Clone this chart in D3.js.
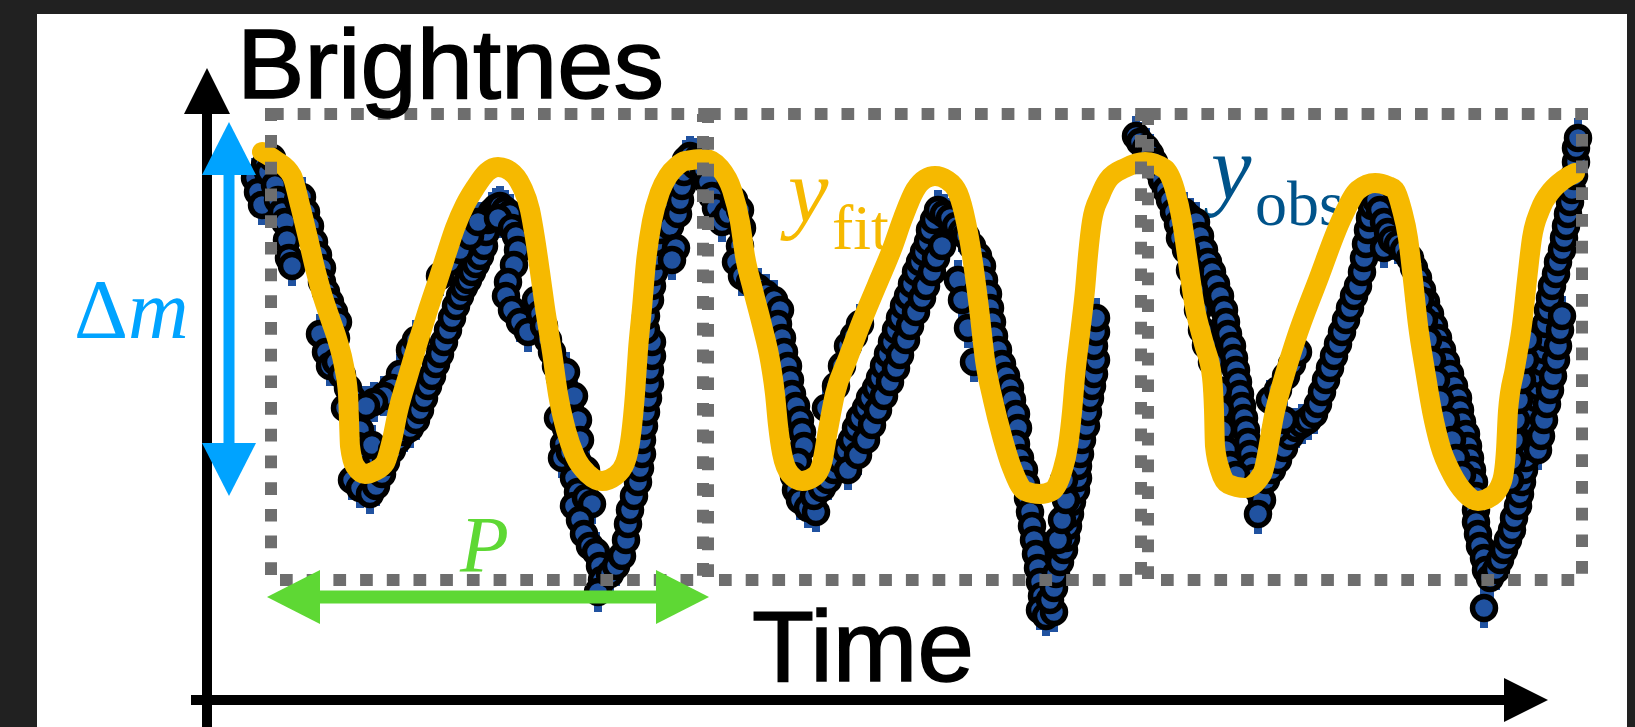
<!DOCTYPE html>
<html>
<head>
<meta charset="utf-8">
<script src="https://cdn.jsdelivr.net/npm/d3@7"></script>
<style>
  body { margin: 0; background: #212121; }
  svg { display: block; }
</style>
</head>
<body>
<svg id="chart" width="1635" height="727"></svg>
<script>
// time in minutes, brightness in mmag (brighter = up)
const period = 437;
const panels = [[0, 432], [437, 870], [877, 1311]];

const obsTime = [
  -16,-13,-9,-6,-3,1,4,7,11,14,16,18,21,27,31,35,39,43,47,51,51,55,59,63,67,65,49,55,59,65,71,77,81,74,85,89,87,91,95,97,81,89,99,105,111,107,101,
  115,121,127,133,139,145,149,153,157,161,165,169,173,177,181,185,189,193,197,201,205,209,213,215,217,221,225,129,121,113,103,95,139,145,169,179,189,199,207,
  229,234,239,227,241,
  245,247,243,237,235,241,249,257,265,269,273,277,281,285,289,295,299,287,295,293,291,299,307,315,303,307,303,315,321,309,313,319,325,329,331,327,
  295,303,307,309,
  339,345,351,355,357,359,363,367,369,371,371,373,375,377,379,379,381,381,375,375,379,381,383,385,385,389,393,399,405,401,407,409,411,413,415,419,425,
  427,433,437,441,445,451,457,463,469,471,469,465,471,479,487,495,503,509,507,511,513,517,519,521,525,529,531,533,527,523,525,529,537,545,543,551,
  557,563,569,575,581,585,589,595,599,605,609,613,617,621,625,629,633,637,641,645,649,653,657,659,663,555,565,571,577,583,589,
  577,587,595,601,607,613,619,625,629,635,639,645,651,655,661,665,671,
  667,673,679,685,691,687,691,697,703,
  695,701,707,711,713,717,719,721,723,727,731,735,739,741,745,747,745,749,753,755,757,759,761,763,765,767,769,771,769,775,783,
  779,783,785,789,793,795,797,799,801,805,807,807,809,811,815,817,819,821,823,825,823,825,825,787,791,795,793,
  865,869,875,879,883,887,891,895,899,903,907,909,913,919,925,929,933,937,941,945,949,953,955,957,961,963,965,967,969,971,973,975,977,979,981,983,987,991,987,
  915,919,923,927,931,935,941,947,949,951,955,959,965,
  995,1001,1007,1013,1019,1025,1031,1037,1043,1047,1051,1055,1059,1063,1067,1071,1075,1079,1083,1087,1091,1093,1095,1097,1099,1101,999,1007,1015,1021,1027,1005,1013,
  1105,1109,1113,1117,1113,1121,
  1127,1133,1139,1143,1147,1151,1155,1159,1163,1167,1171,1175,1179,1183,1187,1189,1191,1195,1197,1199,1201,1203,1205,1205,1205,1207,1209,1213,1215,1213,
  1149,1153,1157,1161,1165,1169,1175,1181,1185,1191,
  1219,1225,1229,1233,1237,1241,1243,1247,1249,1251,1253,1255,1257,1259,1261,1263,1265,1267,1269,1271,1273,1275,1275,1277,1279,1281,1285,1287,1291,1293,1295,1297,1299,1301,1303,1305,1305,1307,
  1267,1270,1273,1276,1279,1282,1285,1287,1289,1291,1239,1241,1243,1245,1248,1251,1254,1257
];
const obsBright = [
  402,388,375,415,408,422,395,380,368,358,340,322,314,380,383,368,354,338,325,312,298,288,278,268,258,242,246,228,214,218,205,192,182,172,162,150,134,122,110,100,100,92,86,94,106,122,135,
  118,130,140,148,152,160,170,182,194,204,216,226,238,250,262,274,284,293,300,308,316,324,334,348,360,368,372,206,192,184,178,174,230,240,304,318,330,344,358,
  374,370,366,362,352,
  344,330,315,298,284,270,258,248,280,266,254,240,228,214,202,190,176,162,152,136,122,128,118,110,102,88,74,82,76,60,46,34,28,14,0,-12,
  208,184,160,140,
  6,14,24,40,56,70,84,98,112,126,140,154,168,182,196,210,224,238,250,264,280,294,308,324,338,350,358,354,332,320,366,380,394,408,420,424,414,
  422,410,398,384,372,358,366,380,370,352,334,318,304,298,292,286,280,270,256,242,228,214,200,186,174,160,148,134,118,104,90,80,72,68,84,92,
  100,110,120,130,140,152,162,172,182,192,202,214,226,238,250,262,274,284,296,308,318,328,338,350,360,172,194,214,234,244,256,
  110,125,140,155,170,184,198,212,225,240,254,268,282,294,308,322,334,
  370,366,362,354,348,300,280,252,218,
  344,334,324,314,300,286,272,258,244,230,216,204,192,180,166,152,136,122,110,96,82,68,54,40,26,12,-2,-16,-30,-36,-32,
  -20,-8,6,18,30,42,54,66,78,90,102,114,126,140,154,168,182,194,206,220,234,248,262,40,60,80,100,
  444,438,432,426,418,410,400,390,380,368,356,342,368,362,358,344,330,318,308,296,284,270,258,246,234,222,210,198,186,174,162,150,138,126,114,102,90,80,66,
  330,310,290,270,250,235,218,190,170,150,130,115,105,
  100,110,120,132,144,152,156,160,166,176,188,200,212,224,236,248,260,272,284,294,308,322,336,350,362,374,180,190,204,216,228,150,160,
  380,370,358,348,332,340,
  336,330,322,312,302,290,278,266,254,242,230,218,206,194,182,170,158,146,134,122,110,98,84,70,58,46,34,22,10,-28,
  280,260,240,220,200,180,160,140,122,105,
  2,10,20,30,40,50,62,74,86,98,110,122,134,146,158,170,182,194,206,218,230,242,256,270,282,294,306,318,330,342,354,366,378,390,404,418,432,442,
  130,144,160,176,190,204,220,234,250,264,100,120,140,160,180,200,220,240
];
const obsErr = 20;

const fitTime = [
  -9,4,21,29,37,44,51,59,67,73,77,78,79,84,94,104,114,121,127,137,147,157,167,176,184,194,204,216,227,239,251,259,264,269,274,281,287,295,304,317,331,344,354,360,364,367,371,375,381,389,397,406,414,
  434,449,461,469,474,482,491,499,504,507,511,519,531,544,551,557,564,577,591,606,621,632,644,654,664,676,687,695,701,708,714,722,731,741,754,769,781,791,797,801,804,809,814,817,821,829,837,854,
  874,894,904,911,917,924,933,941,943,944,949,957,974,991,1004,1024,1047,1071,1087,1104,1117,1124,1131,1137,1142,1147,1154,1161,1169,1181,1194,1207,1221,1231,1235,1237,1244,1251,1256,1261,1269,1281,1292,1304
];
const fitBright = [
  428,420,404,375,342,312,286,262,238,214,186,160,134,114,106,109,117,140,169,204,238,270,300,328,352,375,392,408,413,409,393,370,342,308,272,228,186,150,124,106,99,104,117,145,186,230,272,318,359,388,404,414,419,
  421,412,390,358,324,290,255,220,186,155,127,106,99,104,117,150,186,222,259,295,331,362,390,401,404,400,387,358,324,272,220,180,144,112,89,86,89,108,134,168,203,246,290,325,359,384,400,412,
  418,411,390,359,318,272,236,203,170,134,110,96,92,106,169,238,300,362,390,397,394,390,370,342,300,255,210,169,135,106,87,79,84,99,130,169,212,255,300,342,370,390,400,407
];

const svg = d3.select('#chart');
const W = 1635, H = 727;

const x = d3.scaleLinear().domain([0, 3 * period]).range([271, 271 + 3 * period]);
const y = d3.scaleLinear().domain([0, 466]).range([580, 114]);

svg.append('rect').attr('x', 37).attr('y', 14).attr('width', 1590).attr('height', H - 14).attr('fill', '#fff');

const obs = obsTime.map((t, i) => ({ t: t, b: obsBright[i] }));
const fit = fitTime.map((t, i) => ({ t: t, b: fitBright[i] }));

const serif = 'Liberation Serif, DejaVu Serif, Noto Serif, serif';

// labels sit under the fit line
svg.append('text').attr('x', 788).attr('y', 222)
  .attr('font-family', serif).attr('font-style', 'italic').attr('font-size', 91)
  .attr('fill', '#F6B900').text('y');
svg.append('text').attr('x', 832).attr('y', 249)
  .attr('font-family', serif).attr('font-size', 64)
  .attr('fill', '#F6B900').text('fit');
svg.append('text').attr('x', 1211).attr('y', 199)
  .attr('font-family', serif).attr('font-style', 'italic').attr('font-size', 91)
  .attr('fill', '#00538A').text('y');
svg.append('text').attr('x', 1255).attr('y', 225)
  .attr('font-family', serif).attr('font-size', 64)
  .attr('fill', '#00538A').text('obs');

// error bars
svg.append('g').selectAll('rect')
  .data(obs)
  .join('rect')
  .attr('x', d => x(d.t) - 4)
  .attr('width', 8)
  .attr('y', d => y(d.b + obsErr))
  .attr('height', d => y(d.b - obsErr) - y(d.b + obsErr))
  .attr('fill', '#2052A0');

svg.append('g').selectAll('circle')
  .data(obs)
  .join('circle')
  .attr('cx', d => x(d.t))
  .attr('cy', d => y(d.b))
  .attr('r', 11.5)
  .attr('fill', '#2052A0')
  .attr('stroke', '#000')
  .attr('stroke-width', 5.5);

const line = d3.line()
  .x(d => x(d.t))
  .y(d => y(d.b))
  .curve(d3.curveMonotoneX);

svg.append('path')
  .datum(fit)
  .attr('d', line)
  .attr('fill', 'none')
  .attr('stroke', '#F6B900')
  .attr('stroke-width', 20)
  .attr('stroke-linecap', 'round')
  .attr('stroke-linejoin', 'round');

// one dotted box per period
svg.append('g').selectAll('rect')
  .data(panels)
  .join('rect')
  .attr('x', d => x(d[0]))
  .attr('width', d => x(d[1]) - x(d[0]))
  .attr('y', y(466))
  .attr('height', y(0) - y(466))
  .attr('fill', 'none')
  .attr('stroke', '#6E6E6E')
  .attr('stroke-width', 12)
  .attr('stroke-dasharray', '12.7 14');

// axes
svg.append('line').attr('x1', 207).attr('x2', 207).attr('y1', H).attr('y2', 110)
  .attr('stroke', '#000').attr('stroke-width', 10);
svg.append('polygon').attr('points', '207,68 184,114 230,114').attr('fill', '#000');
svg.append('line').attr('x1', 191).attr('x2', 1506).attr('y1', 700).attr('y2', 700)
  .attr('stroke', '#000').attr('stroke-width', 10);
svg.append('polygon').attr('points', '1548,700 1504,678 1504,722').attr('fill', '#000');

// delta m arrow
svg.append('line').attr('x1', 229).attr('x2', 229).attr('y1', 170).attr('y2', 448)
  .attr('stroke', '#00A3FF').attr('stroke-width', 11);
svg.append('polygon').attr('points', '229,122 202,175 256,175').attr('fill', '#00A3FF');
svg.append('polygon').attr('points', '229,496 202,443 256,443').attr('fill', '#00A3FF');
svg.append('text').attr('x', 74).attr('y', 338)
  .attr('font-family', serif).attr('font-size', 84).attr('fill', '#00A3FF')
  .call(t => {
    t.append('tspan').text('Δ');
    t.append('tspan').attr('font-style', 'italic').text('m');
  });

// period arrow
svg.append('line').attr('x1', 315).attr('x2', 661).attr('y1', 597).attr('y2', 597)
  .attr('stroke', '#5ED834').attr('stroke-width', 13);
svg.append('polygon').attr('points', '267,597 320,570 320,624').attr('fill', '#5ED834');
svg.append('polygon').attr('points', '709,597 656,570 656,624').attr('fill', '#5ED834');
svg.append('text').attr('x', 460).attr('y', 572)
  .attr('font-family', serif).attr('font-style', 'italic').attr('font-size', 80)
  .attr('fill', '#5ED834').text('P');

const sans = 'Liberation Sans, Arial, sans-serif';
svg.append('text').attr('x', 237).attr('y', 98)
  .attr('font-family', sans).attr('font-size', 98)
  .attr('textLength', 427).attr('lengthAdjust', 'spacingAndGlyphs')
  .attr('fill', '#000').attr('stroke', '#000').attr('stroke-width', 1.5)
  .text('Brightnes');
svg.append('text').attr('x', 752).attr('y', 681)
  .attr('font-family', sans).attr('font-size', 100)
  .attr('textLength', 222).attr('lengthAdjust', 'spacingAndGlyphs')
  .attr('fill', '#000').attr('stroke', '#000').attr('stroke-width', 1.5)
  .text('Time');
</script>
</body>
</html>
